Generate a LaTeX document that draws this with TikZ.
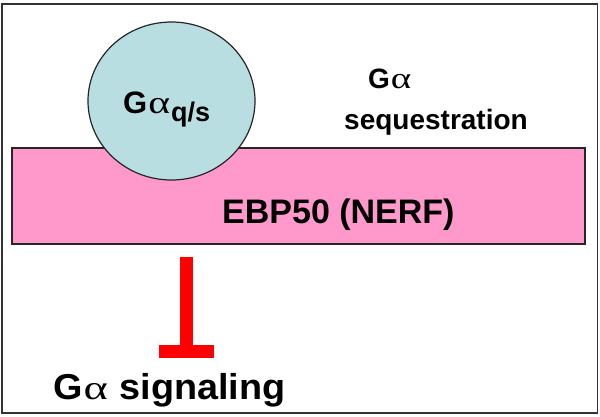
\documentclass[tikz,border=0pt]{standalone}
\usepackage{fontspec}
\setmainfont{Liberation Sans}
\newfontfamily\greekfont{Liberation Serif}
\usetikzlibrary{shapes.geometric}
\definecolor{pinkfill}{RGB}{255,153,204}
\definecolor{bluefill}{RGB}{185,222,225}
\definecolor{inhred}{RGB}{255,0,0}
\tikzset{
  txt/.style={anchor=base west, inner sep=0pt, font=\bfseries},
}
\newcommand{\fsz}[1]{\fontsize{#1}{#1}\selectfont}
\newcommand{\bigalpha}[1]{\kern1pt\relax\scalebox{1.3}[1]{\greekfont\mdseries\fsz{#1}α}\kern1pt\relax}
\begin{document}
\begin{tikzpicture}[x=1pt,y=-1pt]
\useasboundingbox (0,0) rectangle (600,416);
\fill[white] (0,0) rectangle (600,416);
\draw[line width=1.6pt, black!80] (2,4) rectangle (597.5,413);
\node[draw=black!85, line width=1.2pt, fill=pinkfill, rectangle, minimum width=573pt, minimum height=96pt, inner sep=0pt] (ebp) at (298.5,196) {};
\node[draw=black!85, line width=1.2pt, fill=bluefill, ellipse, minimum width=167pt, minimum height=158pt, inner sep=0pt] (galpha) at (171.5,101) {};
\node[txt] (gqs) at (123,113) {\fsz{31}G\bigalpha{32}\raisebox{-8pt}{\fsz{27}q/s}};
\node[txt] (ga) at (368,88) {\fsz{28}G\bigalpha{30}};
\node[txt] (seq) at (344,129) {\fsz{28}sequestration};
\node[txt] (ebptxt) at (222,223) {\fsz{34}EBP50 (NERF)};
\node[txt] (sig) at (53,399) {\scalebox{1.05}[1]{\fsz{36}G\bigalpha{34} signaling}};
\coordinate (inhtop) at (186.5,257);
\coordinate (inhbot) at (186.5,351.5);
\draw[inhred, line width=13pt] (inhtop) -- (inhbot);
\draw[inhred, line width=13pt] ([xshift=-27.5pt]inhbot) -- ([xshift=27.5pt]inhbot);
\end{tikzpicture}
\end{document}
